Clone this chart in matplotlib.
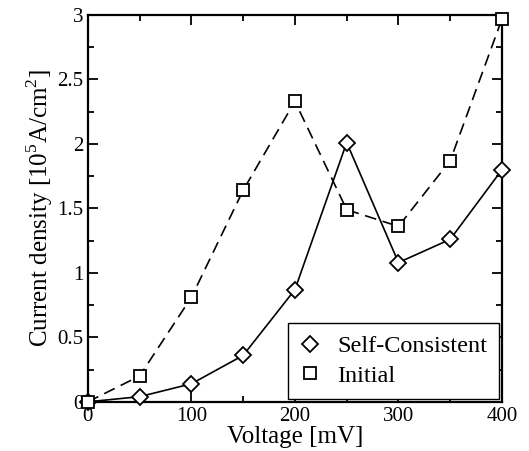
import matplotlib.pyplot as plt
from matplotlib.lines import Line2D
from matplotlib.ticker import MultipleLocator

plt.rcParams['font.family'] = ['Liberation Serif', 'DejaVu Serif']
plt.rcParams['mathtext.fontset'] = 'custom'
plt.rcParams['mathtext.rm'] = 'Liberation Serif'

# Data
voltage = [0, 50, 100, 150, 200, 250, 300, 350, 400]
self_consistent = [0.0, 0.04, 0.14, 0.36, 0.87, 2.01, 1.08, 1.26, 1.80]
initial = [0.0, 0.20, 0.81, 1.64, 2.33, 1.49, 1.36, 1.87, 2.97]

fig = plt.figure(figsize=(5.29, 4.51), dpi=100)
ax = fig.add_axes([0.166, 0.109, 0.783, 0.858])

ax.plot(voltage, self_consistent, color='black', lw=1.2, marker='D', markersize=8.5,
        markerfacecolor='white', markeredgecolor='black', markeredgewidth=1.3,
        zorder=3, clip_on=False)
ax.plot(voltage, initial, color='black', lw=1.2, dashes=(7, 4), marker='s', markersize=8.5,
        markerfacecolor='white', markeredgecolor='black', markeredgewidth=1.3,
        zorder=3, clip_on=False)

ax.set_xlim(0, 400)
ax.set_ylim(0, 3)
ax.xaxis.set_major_locator(MultipleLocator(100))
ax.xaxis.set_minor_locator(MultipleLocator(50))
ax.yaxis.set_minor_locator(MultipleLocator(0.25))
ax.set_yticks([0, 0.5, 1, 1.5, 2, 2.5, 3])
ax.set_yticklabels(['0', '0.5', '1', '1.5', '2', '2.5', '3'])

ax.tick_params(which='both', direction='in', top=True, right=True, labelsize=15, width=1.3)
ax.tick_params(which='major', length=7)
ax.tick_params(which='minor', length=4)
ax.tick_params(axis='x', which='major', pad=4)
ax.tick_params(axis='y', which='major', pad=3)
for s in ax.spines.values():
    s.set_linewidth(1.6)

ax.set_xlabel('Voltage [mV]', fontsize=18, labelpad=0)
ax.set_ylabel(r'Current density [10$^5$A/cm$^2$]', fontsize=18, labelpad=2)

handles = [
    Line2D([], [], ls='none', marker='D', markersize=8.5, markerfacecolor='white',
           markeredgecolor='black', markeredgewidth=1.3),
    Line2D([], [], ls='none', marker='s', markersize=8.5, markerfacecolor='white',
           markeredgecolor='black', markeredgewidth=1.3),
]
leg = ax.legend(handles, ['Self-Consistent', 'Initial'], loc='lower right', fontsize=17.5,
                frameon=True, fancybox=False, edgecolor='black', framealpha=1,
                borderaxespad=0.12, borderpad=0.5, handlelength=0.8, handletextpad=0.7,
                labelspacing=0.3)
leg.get_frame().set_linewidth(1.0)

fig.savefig('out.png', dpi=100)
